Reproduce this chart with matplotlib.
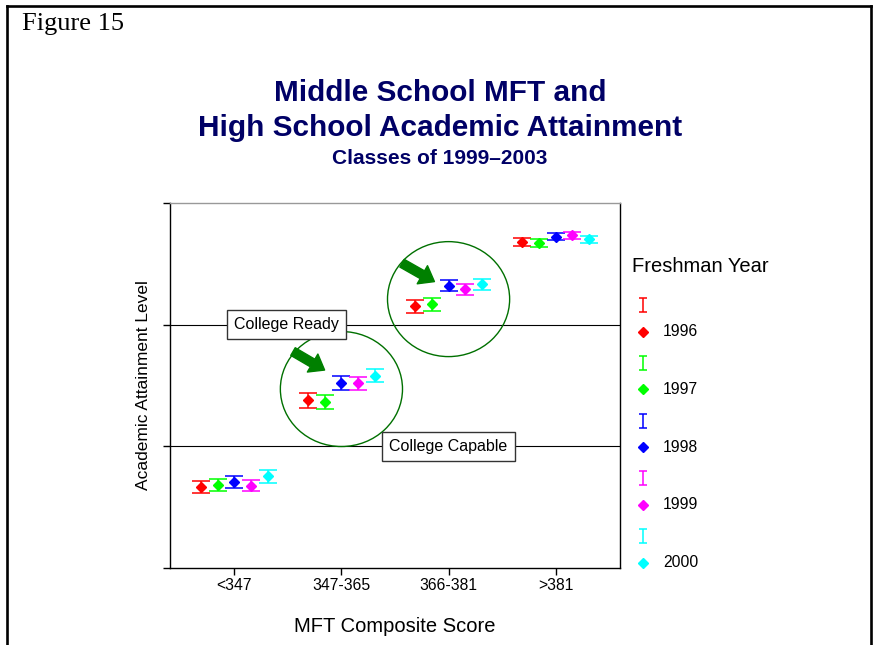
import matplotlib
matplotlib.use("Agg")
import matplotlib.pyplot as plt
from matplotlib.patches import Ellipse
from matplotlib.lines import Line2D
import numpy as np

plt.rcParams["font.family"] = ["Liberation Sans", "DejaVu Sans"]

# ---- data ------------------------------------------------------------------
groups = ["<347", "347-365", "366-381", ">381"]
years = ["1996", "1997", "1998", "1999", "2000"]
colors = ["#FF0000", "#00FF00", "#0000FF", "#FF00FF", "#00FFFF"]

mean_1996 = [0.668, 1.380, 2.153, 2.679]
mean_1997 = [0.682, 1.366, 2.167, 2.670]
mean_1998 = [0.705, 1.518, 2.320, 2.722]
mean_1999 = [0.676, 1.518, 2.290, 2.734]
mean_2000 = [0.753, 1.580, 2.334, 2.701]

err_1996 = [0.049, 0.062, 0.053, 0.033]
err_1997 = [0.049, 0.058, 0.052, 0.031]
err_1998 = [0.049, 0.058, 0.044, 0.030]
err_1999 = [0.046, 0.052, 0.045, 0.026]
err_2000 = [0.051, 0.052, 0.045, 0.031]

means = [mean_1996, mean_1997, mean_1998, mean_1999, mean_2000]
errs = [err_1996, err_1997, err_1998, err_1999, err_2000]

thresholds = [1, 2]
threshold_labels = ["College Capable", "College Ready"]

W, H = 873, 645
NAVY = "#000066"
DKGREEN = "#007000"


def fx(px):
    return px / W


def fy(py):
    return 1 - py / H


fig = plt.figure(figsize=(W / 100, H / 100), dpi=100)

# page frame (left, top, right)
frame = dict(color="black", lw=1.9, transform=fig.transFigure)
fig.add_artist(Line2D([fx(7), fx(7)], [0, fy(6)], **frame))
fig.add_artist(Line2D([fx(7), fx(871)], [fy(6), fy(6)], **frame))
fig.add_artist(Line2D([fx(871), fx(871)], [0, fy(6)], **frame))

fig.text(fx(22), fy(24), "Figure 15", family=["Liberation Serif", "DejaVu Serif"],
         fontsize=19, va="center", ha="left")

fig.text(fx(440), fy(93), "Middle School MFT and", fontsize=21.4, weight="bold",
         color=NAVY, ha="center", va="center")
fig.text(fx(440), fy(128), "High School Academic Attainment", fontsize=21.4,
         weight="bold", color=NAVY, ha="center", va="center")
fig.text(fx(440), fy(159), "Classes of 1999\u20132003", fontsize=15, weight="bold",
         color=NAVY, ha="center", va="center")

# ---- main axes ---------------------------------------------------------------
ax = fig.add_axes([fx(170), fy(568), fx(620) - fx(170), fy(203) - fy(568)])
ax.set_xlim(0.4, 4.6)
ax.set_ylim(0, 3)

x = np.arange(1, len(groups) + 1)
step = 0.156
for i, (m, e, c) in enumerate(zip(means, errs, colors)):
    ax.errorbar(x + (i - 2) * step, m, yerr=e, fmt="D", color=c, ms=5,
                mec=c, ecolor=c, elinewidth=1.1, capsize=6.3, capthick=1.1,
                zorder=4)

for yv in thresholds:
    ax.axhline(yv, color="black", lw=0.8, zorder=1)

box = dict(boxstyle="square,pad=0.45", fc="white", ec="#333333", lw=1)
ax.text(1.49, thresholds[1], threshold_labels[1], fontsize=11.5, ha="center",
        va="center", bbox=box, zorder=3)
ax.text(3.0, thresholds[0], threshold_labels[0], fontsize=11.5, ha="center",
        va="center", bbox=box, zorder=3)

# highlight circles and arrows
ax.add_patch(Ellipse((2.0, 1.471), 1.14, 0.945, fill=False, ec=DKGREEN, lw=1,
                     zorder=2))
ax.add_patch(Ellipse((3.0, 2.21), 1.14, 0.945, fill=False, ec=DKGREEN, lw=1,
                     zorder=2))
arrow = dict(arrowstyle="simple,head_width=0.75,head_length=0.5,tail_width=0.32",
             color="#008000", shrinkA=0, shrinkB=0, mutation_scale=20)
ax.annotate("", xy=(1.843, 1.627), xytext=(1.548, 1.779), arrowprops=arrow,
            zorder=3)
ax.annotate("", xy=(2.868, 2.354), xytext=(2.566, 2.505), arrowprops=arrow,
            zorder=3)

ax.set_xticks(x)
ax.set_xticklabels(groups, fontsize=11.3)
ax.set_yticks([0, 1, 2, 3])
ax.set_yticklabels([])
ax.tick_params(direction="out", length=5, width=1, pad=2)
ax.spines["top"].set_color("#999999")
for s in ax.spines.values():
    s.set_linewidth(1)

ax.set_xlabel("MFT Composite Score", fontsize=14.5, va="center")
ax.xaxis.set_label_coords(0.5, (568 - 627) / 365)
ax.set_ylabel("Academic Attainment Level", fontsize=12.5, va="center")
ax.yaxis.set_label_coords((143 - 170) / 450, 0.5)

# ---- legend, drawn in its own pixel-space axes ------------------------------
lax = fig.add_axes([fx(625), fy(590), fx(800) - fx(625), fy(250) - fy(590)])
lax.set_xlim(625, 800)
lax.set_ylim(590, 250)
lax.axis("off")
lax.text(632, 267, "Freshman Year", fontsize=14.5, ha="left", va="center")
for i, (yr, c) in enumerate(zip(years, colors)):
    y0 = 305 + 57.8 * i
    lax.errorbar([643], [y0], yerr=[7], fmt="none", ecolor=c, elinewidth=1.1,
                 capsize=3.2, capthick=1.1)
    lax.plot([643], [y0 + 26.5], "D", color=c, ms=5)
    lax.text(663, y0 + 26.5, yr, fontsize=11.3, ha="left", va="center")

fig.savefig("out.png", dpi=100)
